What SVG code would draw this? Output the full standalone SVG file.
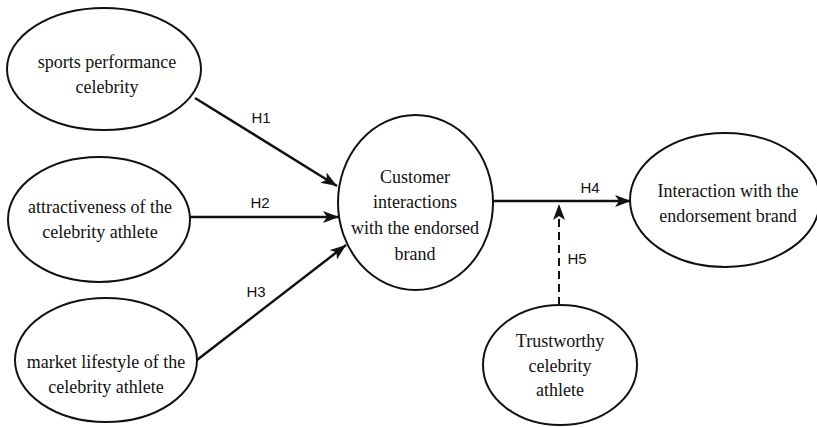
<svg xmlns="http://www.w3.org/2000/svg" width="817" height="427" viewBox="0 0 817 427">
  <style>
    .node ellipse { fill: #fff; stroke: #111; stroke-width: 2; }
    .node text { font-family: "Liberation Serif", "Times New Roman", serif; font-size: 18px; fill: #111; text-anchor: middle; }
    .edge { stroke: #111; stroke-width: 2.5; fill: none; }
    .dash { stroke-dasharray: 8 5; stroke-width: 2; }
    .lbl { font-family: "Liberation Sans", Arial, sans-serif; font-size: 15px; fill: #111; text-anchor: middle; }
  </style>
  <defs>
    <marker id="arr" viewBox="0 0 16 12" refX="16" refY="6" markerWidth="16" markerHeight="12" markerUnits="userSpaceOnUse" orient="auto">
      <path d="M0,0 L16,6 L0,12 L4,6 z" fill="#111"/>
    </marker>
  </defs>
  <rect width="817" height="427" fill="#fff"/>

  <g id="connectors">
    <line class="edge" x1="195" y1="98" x2="337" y2="186" marker-end="url(#arr)"/>
    <line class="edge" x1="190" y1="217" x2="339" y2="217" marker-end="url(#arr)"/>
    <line class="edge" x1="197" y1="360" x2="346" y2="245" marker-end="url(#arr)"/>
    <line class="edge" x1="493" y1="201" x2="631" y2="201" marker-end="url(#arr)"/>
    <line class="edge dash" x1="559" y1="305" x2="559" y2="204" marker-end="url(#arr)"/>
    <text class="lbl" x="261" y="123">H1</text>
    <text class="lbl" x="260" y="208">H2</text>
    <text class="lbl" x="256" y="297">H3</text>
    <text class="lbl" x="590" y="193">H4</text>
    <text class="lbl" x="577" y="264">H5</text>
  </g>

  <g id="n1" class="node">
    <ellipse cx="104" cy="69" rx="97" ry="61"/>
    <text x="107" y="68">sports performance</text>
    <text x="107" y="93">celebrity</text>
  </g>
  <g id="n2" class="node">
    <ellipse cx="99" cy="219.5" rx="91" ry="62.5"/>
    <text x="100" y="213">attractiveness of the</text>
    <text x="100" y="238">celebrity athlete</text>
  </g>
  <g id="n3" class="node">
    <ellipse cx="106" cy="360" rx="91" ry="62"/>
    <text x="106" y="368">market lifestyle of the</text>
    <text x="106" y="393">celebrity athlete</text>
  </g>
  <g id="n4" class="node">
    <ellipse cx="415.5" cy="202.5" rx="77.5" ry="87.5"/>
    <text x="415" y="183">Customer</text>
    <text x="415" y="208">interactions</text>
    <text x="415" y="234">with the endorsed</text>
    <text x="415" y="260">brand</text>
  </g>
  <g id="n5" class="node">
    <ellipse cx="725" cy="200" rx="95" ry="67"/>
    <text x="728" y="197">Interaction with the</text>
    <text x="728" y="222">endorsement brand</text>
  </g>
  <g id="n6" class="node">
    <ellipse cx="560" cy="365" rx="77" ry="60"/>
    <text x="560" y="347">Trustworthy</text>
    <text x="560" y="372">celebrity</text>
    <text x="560" y="396">athlete</text>
  </g>
</svg>
